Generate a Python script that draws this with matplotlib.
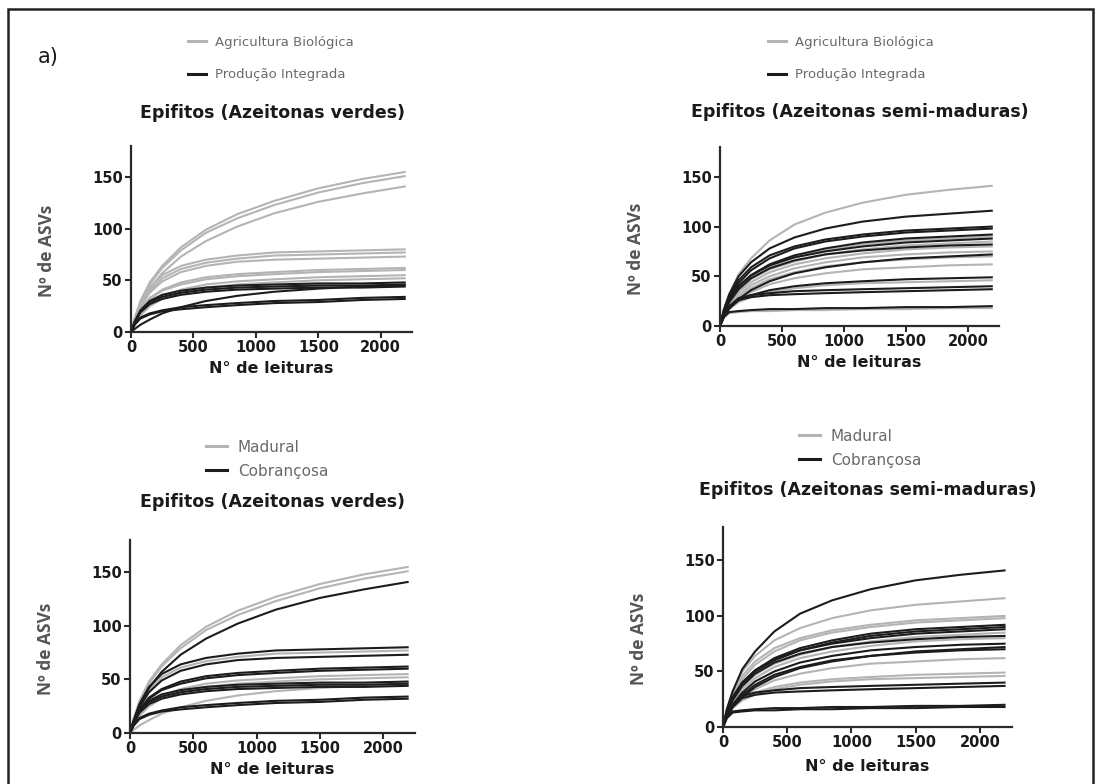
import matplotlib
matplotlib.use('Agg')
import matplotlib.pyplot as plt
from matplotlib.lines import Line2D
from matplotlib.patches import Rectangle

# numero de leituras onde cada curva foi lida
leituras = [0, 30, 75, 150, 250, 400, 600, 850, 1150, 1500, 1850, 2200]

# Azeitonas verdes - ASVs por amostra
verdes_asvs = [
    [0, 14, 30, 48, 64, 82, 99, 114, 127, 139, 148, 155],
    [0, 13, 28, 46, 62, 79, 96, 110, 123, 135, 144, 151],
    [0, 12, 26, 42, 57, 73, 88, 102, 115, 126, 134, 141],
    [0, 12, 27, 43, 55, 64, 70, 74, 77, 78, 79, 80],
    [0, 11, 25, 40, 52, 61, 67, 71, 74, 75, 76, 77],
    [0, 11, 24, 38, 49, 58, 64, 68, 70, 71, 72, 73],
    [0, 10, 22, 33, 41, 48, 53, 56, 58, 60, 61, 62],
    [0, 10, 21, 32, 40, 46, 51, 54, 56, 58, 59, 60],
    [0, 8, 18, 28, 35, 41, 46, 49, 51, 53, 54, 55],
    [0, 7, 16, 25, 32, 38, 43, 46, 48, 50, 51, 52],
    [0, 10, 21, 30, 36, 40, 43, 45, 46, 47, 47, 48],
    [0, 10, 20, 29, 34, 38, 41, 43, 44, 45, 45, 46],
    [0, 9, 19, 27, 32, 36, 39, 41, 42, 43, 43, 44],
    [0, 8, 14, 18, 21, 24, 26, 28, 30, 31, 33, 34],
    [0, 7, 13, 17, 20, 22, 24, 26, 28, 29, 31, 32],
    [0, 3, 7, 12, 18, 24, 30, 35, 39, 42, 44, 45],
]
verdes_manejo = ['AB'] * 10 + ['PI'] * 6
verdes_cultivar = ['Mad', 'Mad', 'Cob', 'Cob', 'Mad', 'Cob', 'Cob', 'Cob',
                   'Mad', 'Mad', 'Cob', 'Cob', 'Cob', 'Cob', 'Cob', 'Mad']

# Azeitonas semi-maduras - ASVs por amostra
semi_asvs = [
    [0, 16, 32, 52, 68, 86, 102, 114, 124, 132, 137, 141],
    [0, 16, 32, 50, 64, 78, 89, 98, 105, 110, 113, 116],
    [0, 15, 30, 46, 59, 71, 80, 87, 92, 96, 98, 100],
    [0, 14, 28, 43, 56, 68, 78, 85, 90, 94, 96, 98],
    [0, 14, 27, 40, 51, 62, 71, 78, 84, 88, 90, 92],
    [0, 13, 26, 39, 50, 60, 69, 76, 82, 86, 88, 90],
    [0, 13, 26, 40, 51, 61, 69, 75, 80, 84, 86, 88],
    [0, 12, 24, 36, 47, 57, 65, 72, 77, 81, 83, 85],
    [0, 12, 24, 37, 48, 58, 66, 72, 76, 79, 81, 82],
    [0, 11, 22, 34, 44, 54, 62, 68, 73, 77, 79, 80],
    [0, 10, 20, 31, 41, 50, 58, 64, 69, 72, 74, 75],
    [0, 9, 18, 27, 36, 45, 53, 59, 64, 68, 70, 72],
    [0, 10, 19, 29, 38, 47, 54, 60, 64, 67, 69, 70],
    [0, 9, 17, 26, 34, 42, 48, 53, 57, 59, 61, 62],
    [0, 10, 18, 26, 31, 36, 40, 43, 45, 47, 48, 49],
    [0, 9, 17, 24, 29, 34, 38, 41, 43, 44, 45, 46],
    [0, 10, 20, 28, 31, 33, 35, 36, 37, 38, 39, 40],
    [0, 9, 18, 26, 29, 31, 32, 33, 34, 35, 36, 37],
    [0, 9, 14, 15, 16, 17, 17, 18, 18, 19, 19, 20],
    [0, 8, 13, 14, 15, 15, 16, 16, 17, 17, 18, 18],
]
semi_manejo = ['AB', 'PI', 'PI', 'PI', 'PI', 'AB', 'PI', 'AB', 'PI', 'AB',
               'AB', 'PI', 'AB', 'AB', 'PI', 'AB', 'PI', 'PI', 'PI', 'AB']
semi_cultivar = ['Cob', 'Mad', 'Mad', 'Mad', 'Cob', 'Cob', 'Cob', 'Mad', 'Cob', 'Mad',
                 'Cob', 'Cob', 'Cob', 'Mad', 'Mad', 'Mad', 'Cob', 'Cob', 'Cob', 'Cob']

rotulos = {'AB': 'Agricultura Biológica', 'PI': 'Produção Integrada',
           'Mad': 'Madural', 'Cob': 'Cobrançosa'}

CLARO = '#b4b4b4'
ESCURO = '#1c1c1c'
W, H = 1096, 784


def fx(px):
    return px / W


def fy(py):
    return 1 - py / H


def painel(fig, caixa, curvas, grupos, chaves, titulo, tpos, lpos, lsize, xlpad):
    x0, x1, ytop, ybot = caixa
    ax = fig.add_axes([fx(x0), fy(ybot), fx(x1 - x0), (ybot - ytop) / H])
    cores = {chaves[0]: CLARO, chaves[1]: ESCURO}
    for k in chaves:
        for y, g in zip(curvas, grupos):
            if g == k:
                ax.plot(leituras, y, color=cores[k], lw=1.5, solid_capstyle='butt')
    ax.set_xlim(0, 2250)
    ax.set_ylim(0, 180)
    ax.set_xticks([0, 500, 1000, 1500, 2000])
    ax.set_yticks([0, 50, 100, 150])
    for s in ['top', 'right']:
        ax.spines[s].set_visible(False)
    for s in ['left', 'bottom']:
        ax.spines[s].set_linewidth(1.6)
        ax.spines[s].set_color('#2a2a2a')
    ax.tick_params(direction='out', length=4, width=1.5, color='#2a2a2a',
                   labelsize=10.5, pad=2)
    for lb in ax.get_xticklabels() + ax.get_yticklabels():
        lb.set_fontweight('bold')
        lb.set_color('#1a1a1a')
    ax.set_xlabel('N° de leituras', fontsize=11.5, fontweight='bold',
                  color='#1a1a1a', labelpad=xlpad)
    fig.text(fx(tpos[0]), fy(tpos[1]), titulo, ha='center', va='center',
             fontsize=12.5, fontweight='bold', color='#1a1a1a')
    fig.text(fx(x0 - 84), fy((ytop + ybot) / 2 + 12), 'Nº de ASVs', rotation=90,
             ha='center', va='center', fontsize=12.5, family='Open Sans',
             fontweight='bold', color='#555555')
    alças = [Line2D([], [], color=cores[k], lw=2.2) for k in chaves]
    leg = ax.legend(alças, [rotulos[k] for k in chaves], loc='upper left',
                    bbox_to_anchor=(fx(lpos[0]), fy(lpos[1])),
                    bbox_transform=fig.transFigure, frameon=False,
                    handlelength=1.4, handletextpad=0.7, labelspacing=lpos[2],
                    borderpad=0, prop={'size': lsize})
    for t in leg.get_texts():
        t.set_color('#6a6a6a')
    return ax


fig = plt.figure(figsize=(W / 100, H / 100), dpi=100)

painel(fig, (131, 412, 146, 332), verdes_asvs, verdes_manejo, ('AB', 'PI'),
       'Epifitos (Azeitonas verdes)', (272, 113), (181, 29, 1.5), 9.5, 4)
painel(fig, (720, 999, 147, 326), semi_asvs, semi_manejo, ('AB', 'PI'),
       'Epifitos (Azeitonas semi-maduras)', (860, 112), (761, 29, 1.5), 9.5, 4)
painel(fig, (130, 415, 540, 733), verdes_asvs, verdes_cultivar, ('Mad', 'Cob'),
       'Epifitos (Azeitonas verdes)', (272, 502), (198, 432, 0.6), 11, 4)
painel(fig, (723, 1012, 527, 727), semi_asvs, semi_cultivar, ('Mad', 'Cob'),
       'Epifitos (Azeitonas semi-maduras)', (868, 490), (791, 421, 0.6), 11, 6)

fig.text(fx(38), fy(57), 'a)', fontsize=15, va='center', ha='left', color='#1a1a1a')
fig.add_artist(Rectangle((fx(8), -0.1), fx(1093 - 8), 0.1 + fy(9), fill=False,
                         lw=1.8, ec='#222222', transform=fig.transFigure))

fig.savefig('out.png', dpi=100)
